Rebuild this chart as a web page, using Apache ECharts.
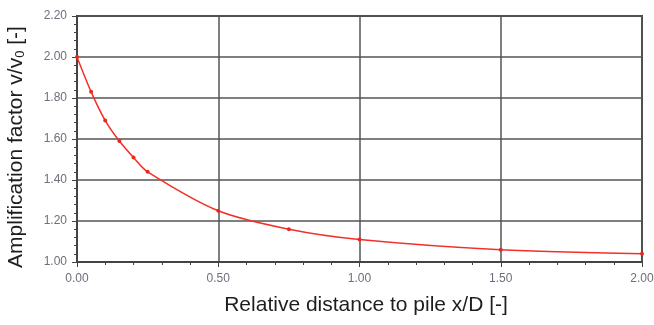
<!DOCTYPE html>
<html>
<head>
<meta charset="utf-8">
<script src="https://cdn.jsdelivr.net/npm/echarts@6/dist/echarts.min.js"></script>
<style>
  html, body { margin: 0; padding: 0; background: #fff; }
  #chart { width: 654px; height: 325px; }
</style>
</head>
<body>
<div id="chart"></div>
<script>
// x/D values and amplification factor
var xValues = [0, 0.05, 0.1, 0.15, 0.2, 0.25, 0.5, 0.75, 1.0, 1.5, 2.0];
var ampValues = [2.00, 1.83, 1.69, 1.59, 1.51, 1.44, 1.25, 1.16, 1.11, 1.06, 1.04];

var points = [];
for (var i = 0; i < xValues.length; i++) {
  points.push([xValues[i], ampValues[i]]);
}

var myChart = echarts.init(document.getElementById('chart'));

var option = {
  animation: false,
  grid: {
    left: 77,
    right: 12,
    top: 16,
    bottom: 63,
    outerBoundsMode: 'none',
    containLabel: false,
    show: true,
    borderColor: '#444',
    borderWidth: 2
  },
  xAxis: {
    type: 'value',
    min: 0,
    max: 2,
    interval: 0.5,
    name: 'Relative distance to pile x/D [-]',
    nameLocation: 'middle',
    nameGap: 33,
    nameTextStyle: {
      fontFamily: 'Liberation Sans',
      fontSize: 21,
      color: '#1e1e1e',
      padding: [0, 0, 0, 13]
    },
    axisLine: { lineStyle: { color: '#444', width: 2 } },
    axisTick: { length: 5, lineStyle: { color: '#444' } },
    minorTick: { show: true, splitNumber: 5, length: 3, lineStyle: { color: '#444' } },
    axisLabel: {
      fontFamily: 'Liberation Sans',
      fontSize: 12,
      color: '#6e6e7c',
      margin: 11,
      formatter: function(v) { return v.toFixed(2); }
    },
    splitLine: { show: true, lineStyle: { color: '#555', width: 1.5 } }
  },
  yAxis: {
    type: 'value',
    min: 1.0,
    max: 2.2,
    interval: 0.2,
    name: 'Amplification factor v/v{sub|0} [-]',
    nameLocation: 'middle',
    nameGap: 50,
    nameTextStyle: {
      fontFamily: 'Liberation Sans',
      fontSize: 21,
      color: '#1e1e1e',
      padding: [0, 16, 0, 0],
      rich: {
        sub: {
          fontFamily: 'Liberation Sans',
          fontSize: 13,
          color: '#1e1e1e',
          verticalAlign: 'bottom',
          padding: [8, 0, 0, 0]
        }
      }
    },
    axisLine: { show: true, lineStyle: { color: '#444', width: 2 } },
    axisTick: { show: true, length: 5, lineStyle: { color: '#444' } },
    minorTick: { show: true, splitNumber: 5, length: 3, lineStyle: { color: '#444' } },
    axisLabel: {
      fontFamily: 'Liberation Sans',
      fontSize: 12,
      color: '#6e6e7c',
      margin: 10,
      formatter: function(v) { return v.toFixed(2); }
    },
    splitLine: { show: true, lineStyle: { color: '#555', width: 1.5 } }
  },
  series: [{
    type: 'line',
    data: points,
    smooth: 0.3,
    symbol: 'circle',
    symbolSize: 4,
    lineStyle: { color: '#f2302a', width: 1.5 },
    itemStyle: { color: '#e8281f' }
  }]
};

myChart.setOption(option);
</script>
</body>
</html>
